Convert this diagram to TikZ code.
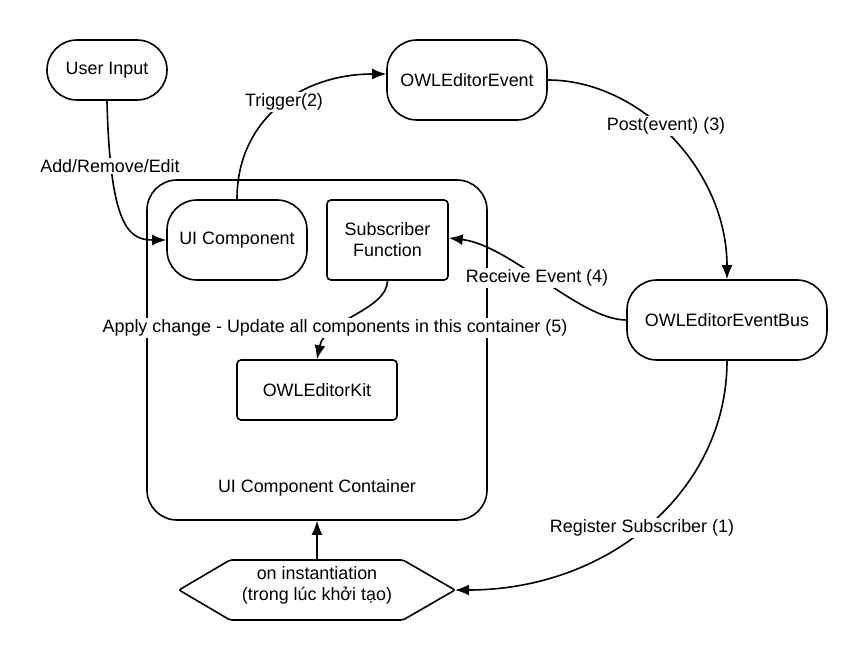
\documentclass[tikz,border=0pt]{standalone}
\usepackage{fontspec}
\setmainfont{Liberation Sans}
\usetikzlibrary{arrows.meta}
\begin{document}
\begin{tikzpicture}[x=1pt,y=-1pt, line width=1.6pt,
  font=\fontsize{17.9}{21}\selectfont,
  stadium/.style={draw, rounded corners=30pt, inner sep=0pt, align=center},
  sqbox/.style={draw, rounded corners=4pt, inner sep=0pt, align=center},
  lbl/.style={fill=white, inner sep=1.5pt},
  conn/.style={-{Latex[length=14pt,width=11pt]}}]
\useasboundingbox (0,0) rectangle (867,660);
% container
\node[draw, rounded corners=30pt, minimum width=340pt, minimum height=340pt, inner sep=0pt] (cont) at (317,350) {};
\node (contlbl) at (317,488) {UI Component Container};
% nodes
\node[stadium, minimum width=120pt, minimum height=60pt] (user) at (107,70) {User Input};
\node[stadium, minimum width=160pt, minimum height=80pt] (ev) at (467,80) {OWLEditorEvent};
\node[stadium, minimum width=140pt, minimum height=80pt] (uic) at (237,240) {UI Component};
\node[sqbox, minimum width=121pt, minimum height=80pt] (sub) at (387.5,240) {Subscriber\\Function};
\node[stadium, minimum width=200pt, minimum height=80pt] (bus) at (727,320) {OWLEditorEventBus};
\node[sqbox, minimum width=160pt, minimum height=60pt] (kit) at (317,390) {OWLEditorKit};
% hexagon
\draw[rounded corners=2pt] (179,590) -- (230,560) -- (403,560) -- (455,590) -- (403,620) -- (230,620) -- cycle;
\node[align=center] (hex) at (317,585) {on instantiation\\(trong lúc khởi tạo)};
\coordinate (hexR) at (455,590);
\coordinate (hexT) at (317,560);
% connectors
\draw[conn] (user.south) .. controls (110,230) and (130,240) .. (uic.west);
\draw[conn] (uic.north) .. controls (237,120) and (300,74) .. ([yshift=6pt]ev.west);
\draw[conn] (ev.east) .. controls (640,80) and (727,170) .. (bus.north);
\draw[conn] (bus.west) .. controls (580,320) and (510,245) .. ([yshift=2pt]sub.east);
\draw[conn] (sub.south) .. controls (387,310) and (325,320) .. (kit.north);
\draw[conn] (bus.south) .. controls (727,490) and (610,590) .. (hexR);
\draw[conn] (hexT) -- (cont.south);
% labels
\node[lbl] (l1) at (110,166) {Add/Remove/Edit};
\node[lbl] (l2) at (284,102) {Trigger(2)};
\node[lbl] (l3) at (666,126) {Post(event) (3)};
\node[lbl] (l4) at (537,278) {Receive Event (4)};
\node[lbl] (l5) at (335,328) {Apply change - Update all components in this container (5)};
\node[lbl] (l6) at (642,528) {Register Subscriber (1)};
\end{tikzpicture}
\end{document}
